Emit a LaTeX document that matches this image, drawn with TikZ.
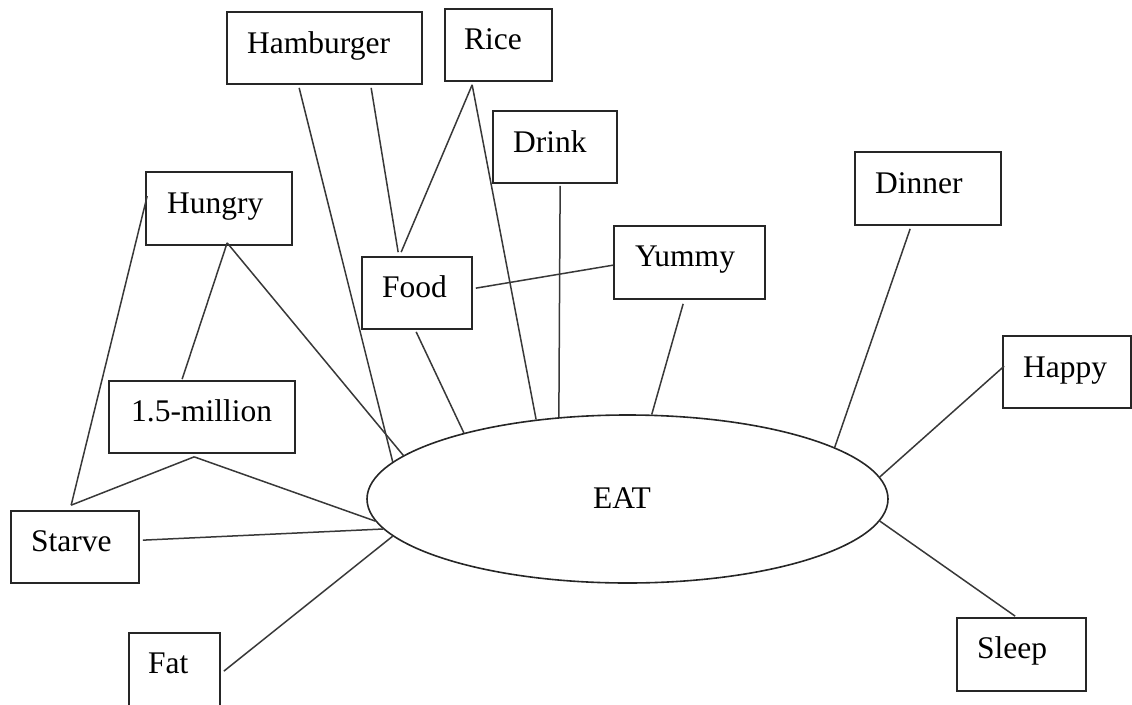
\documentclass[tikz,border=0pt]{standalone}
\usepackage{fontspec}
\setmainfont{Liberation Serif}
\usetikzlibrary{fit,calc,shapes.geometric}
\begin{document}
\begin{tikzpicture}[x=1pt,y=-1pt,
  box/.style={rectangle, draw=black!85, line width=1.7pt, inner sep=0pt},
  word/.style={anchor=base west, inner sep=0pt, text=black, font=\fontsize{31.5}{36}\selectfont},
  link/.style={draw=black!78, line width=1.5pt}]
\useasboundingbox (0,0) rectangle (1132,704);

% central ellipse
\node[ellipse, draw=black!85, line width=1.6pt, inner sep=0pt,
      minimum width=521pt, minimum height=168pt] (eat) at (627.5,499) {};
\node[word] (eatT) at (593,508) {EAT};

% boxes
\node[box, fit={(227,12) (422,84)}]    (ham)    {};
\node[box, fit={(445,9) (552,81)}]     (rice)   {};
\node[box, fit={(493,111) (617,183)}]  (drink)  {};
\node[box, fit={(146,172) (292,245)}]  (hungry) {};
\node[box, fit={(855,152) (1001,225)}] (dinner) {};
\node[box, fit={(614,226) (765,299)}]  (yummy)  {};
\node[box, fit={(362,257) (472,329)}]  (food)   {};
\node[box, fit={(1003,336) (1131,408)}] (happy) {};
\node[box, fit={(109,381) (295,453)}]  (mil)    {};
\node[box, fit={(11,511) (139,583)}]   (starve) {};
\node[box, fit={(129,633) (220,708)}]  (fat)    {};
\node[box, fit={(957,618) (1086,691)}] (sleep)  {};

% labels
\node[word] (hamT)    at (247,53)  {Hamburger};
\node[word] (riceT)   at (464,49)  {Rice};
\node[word] (drinkT)  at (513,152) {Drink};
\node[word] (hungryT) at (167,213) {Hungry};
\node[word] (dinnerT) at (875,193) {Dinner};
\node[word] (yummyT)  at (635,266) {Yummy};
\node[word] (foodT)   at (382,297) {Food};
\node[word] (happyT)  at (1023,377) {Happy};
\node[word] (milT)    at (131,421) {1.5-million};
\node[word] (starveT) at (31,551)  {Starve};
\node[word] (fatT)    at (148,673) {Fat};
\node[word] (sleepT)  at (977,658) {Sleep};

% connectors
\draw[link] ($(ham.south west)+(73,3)$)  -- (eat.171.3);
\draw[link] ($(ham.south west)+(145,3)$) -- ($(food.north west)+(37,-4)$);
\draw[link] ($(rice.south west)+(28,3)$) -- ($(food.north west)+(40,-4)$);
\draw[link] ($(rice.south west)+(28,3)$) -- (eat.139.9);
\draw[link] ($(drink.south west)+(68,2)$) -- (eat.130.7);
\draw[link] ($(food.north east)+(3,32)$) -- ($(yummy.north west)+(0,40)$);
\draw[link] ($(food.south west)+(55,2)$) -- (eat.158.5);
\draw[link] ($(yummy.south west)+(70,4)$) -- (eat.74.7);
\draw[link] ($(dinner.south west)+(56,3)$) -- (eat.14.1);
\draw[link] ($(happy.north west)+(2,31)$) -- (eat.5.95);
\draw[link] ($(sleep.north west)+(59,-1)$) -- (eat.-5.7);
\draw[link] ($(hungry.south west)+(82,-3)$) -- (eat.169.6);
\draw[link] ($(hungry.south west)+(82,-3)$) -- ($(mil.north west)+(74,-1)$);
\draw[link] ($(hungry.north west)+(2,25)$) -- ($(starve.north west)+(61,-5)$);
\draw[link] ($(mil.south west)+(86,3)$) -- ($(starve.north west)+(61,-5)$);
\draw[link] ($(mil.south west)+(86,3)$) -- (eat.185.5);
\draw[link] ($(starve.north east)+(3,30)$) -- (eat.187.8);
\draw[link] ($(fat.north east)+(3,39)$) -- (eat.189.1);
\end{tikzpicture}
\end{document}
